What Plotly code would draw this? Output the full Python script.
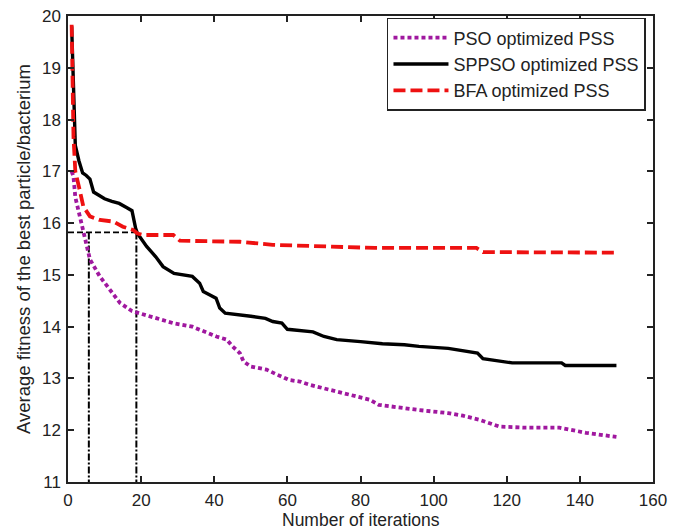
import plotly.graph_objects as go

# ---- data ----
pso_x = [1, 1.5, 2, 3.3, 4.2, 5.5, 6, 8.7, 11.5, 14.2, 17.5, 22.4, 28.7, 34, 36, 40.6, 43.4,
         45, 47, 48, 50, 54.3, 57, 60.5, 63.4, 66, 71.6, 77, 82.5, 85, 91.6, 96, 104, 108,
         112.6, 118, 125, 134.4, 141.7, 150]
pso_y = [17.0, 16.9, 16.5, 16.13, 15.81, 15.48, 15.3, 14.97, 14.71, 14.46, 14.3, 14.2, 14.07,
         14.0, 13.94, 13.81, 13.75, 13.62, 13.49, 13.33, 13.23, 13.17, 13.08, 12.97, 12.94,
         12.88, 12.78, 12.68, 12.59, 12.49, 12.42, 12.39, 12.33, 12.28, 12.2, 12.07, 12.05,
         12.05, 11.95, 11.87]

sppso_x = [1, 2, 3, 4, 5, 6, 7, 8, 10, 12, 14, 16, 17.5, 18.5, 19, 21.5, 24, 26, 29, 34, 36,
           37, 40.5, 41.5, 43, 50, 54, 56, 58.5, 60, 67, 70, 73.5, 80, 86, 92, 96, 104, 112,
           113.5, 121.5, 135, 136, 150]
sppso_y = [19.8, 17.5, 17.2, 16.97, 16.92, 16.85, 16.6, 16.55, 16.47, 16.42, 16.38, 16.3,
           16.24, 15.9, 15.8, 15.55, 15.35, 15.16, 15.03, 14.97, 14.84, 14.68, 14.55, 14.36,
           14.26, 14.2, 14.16, 14.1, 14.07, 13.95, 13.9, 13.81, 13.75, 13.71, 13.67, 13.65,
           13.62, 13.58, 13.49, 13.38, 13.3, 13.3, 13.25, 13.25]

bfa_x = [1, 1.5, 2, 2.4, 3, 4.2, 6, 8.7, 12.4, 15, 17.8, 19, 20.6, 28.8, 30.6, 47, 56, 84,
         111.7, 113.5, 150]
bfa_y = [19.83, 17.67, 17.0, 16.9, 16.7, 16.32, 16.13, 16.06, 16.03, 15.93, 15.87, 15.8,
         15.77, 15.77, 15.66, 15.64, 15.58, 15.52, 15.52, 15.44, 15.43]

guide_level = 15.82
guide_x = [5.7, 18.7]
y_floor = 11

series_names = ["PSO optimized PSS", "SPPSO optimized PSS", "BFA optimized PSS"]
x_ticks = [0, 20, 40, 60, 80, 100, 120, 140, 160]
y_ticks = [11, 12, 13, 14, 15, 16, 17, 18, 19, 20]
x_title = "Number of iterations"
y_title = "Average fitness of the best particle/bacterium"

FONT = "Liberation Sans, Arial"
INK = "#222"

fig = go.Figure()

# guide lines
fig.add_trace(go.Scatter(x=[0, guide_x[1]], y=[guide_level, guide_level], mode="lines",
                         line=dict(color="black", width=1.8, dash="6px,3px"),
                         showlegend=False, hoverinfo="skip"))
for gx in guide_x:
    fig.add_trace(go.Scatter(x=[gx, gx], y=[guide_level, y_floor], mode="lines",
                             line=dict(color="black", width=2, dash="7px,2px,2px,2px"),
                             showlegend=False, hoverinfo="skip"))

fig.add_trace(go.Scatter(x=pso_x, y=pso_y, mode="lines", name=series_names[0],
                         line=dict(color="#a0189f", width=3.8, dash="4px,3px")))
fig.add_trace(go.Scatter(x=sppso_x, y=sppso_y, mode="lines", name=series_names[1],
                         line=dict(color="black", width=3.4)))
fig.add_trace(go.Scatter(x=bfa_x, y=bfa_y, mode="lines", name=series_names[2],
                         line=dict(color="#ee1111", width=3.8, dash="12px,5px")))

axis_common = dict(showgrid=False, zeroline=False, showline=True, linecolor=INK,
                   linewidth=1.5, mirror="ticks", ticks="inside", ticklen=6,
                   tickcolor=INK, tickwidth=1.5, automargin=False,
                   tickfont=dict(family=FONT, size=17, color=INK))

fig.update_layout(
    width=690, height=529,
    margin=dict(l=68, r=37, t=16, b=47),
    paper_bgcolor="white", plot_bgcolor="white",
    xaxis=dict(range=[0, 160], tickvals=x_ticks, ticklabelstandoff=2, **axis_common),
    yaxis=dict(range=[11, 20], tickvals=y_ticks, ticklabelstandoff=2,
               title=dict(text=y_title, standoff=6,
                          font=dict(family=FONT, size=18.5, color=INK)),
               **axis_common),
    legend=dict(x=0.988, y=0.996, xanchor="right", yanchor="top",
                bgcolor="white", bordercolor=INK, borderwidth=1.5,
                font=dict(family=FONT, size=18, color=INK),
                itemwidth=55, tracegroupgap=0),
    showlegend=True,
    annotations=[dict(text=x_title, xref="paper", yref="paper", x=0.5, y=-0.082,
                      xanchor="center", yanchor="middle", showarrow=False,
                      font=dict(family=FONT, size=17.5, color=INK))],
)

fig.write_html("out.html")
